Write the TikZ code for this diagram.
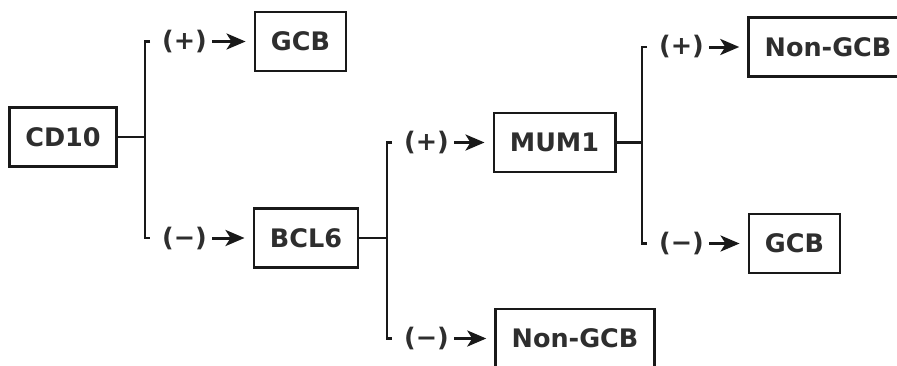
\documentclass[tikz,border=0pt]{standalone}
\usepackage{fontspec}
\setmainfont{DejaVu Sans}
\usetikzlibrary{arrows.meta}
\begin{document}
\begin{tikzpicture}[x=1pt,y=-1pt,
  box/.style={draw=black!90, line width=2.8pt, inner xsep=16pt, inner ysep=0pt, minimum height=59pt,
    font=\fontsize{25.5}{30}\selectfont\bfseries, text=black!82},
  lbl/.style={inner sep=0pt, anchor=west, font=\fontsize{25.5}{30}\selectfont\bfseries, text=black!82},
  line/.style={line width=2.7pt, draw=black!90},
  arr/.style={line width=3pt, draw=black!90, -{Stealth[length=19pt,width=16pt,inset=5pt]}, shorten <=5pt, shorten >=8pt}
]
\useasboundingbox (0,0) rectangle (897,365);
\fill[white] (0,0) rectangle (897,365);

\node[box] (CD10) at (63,137) {CD10};
\node[box] (GCBa) at (300.5,41.5) {GCB};
\node[box] (BCL6) at (306,238) {BCL6};
\node[box] (MUM1) at (554.5,142.5) {MUM1};
\node[box] (NGa) at (828,47) {Non-GCB};
\node[box] (GCBb) at (794.5,243.5) {GCB};
\node[box] (NGb) at (575,338.5) {Non-GCB};

% CD10 branch
\coordinate (j1) at (145,137);
\draw[line] (CD10.east) -- (j1);
\draw[line] ([xshift=5pt]j1 |- GCBa.west) -- (j1 |- GCBa.west) -- (j1 |- BCL6.west) -- ++(5pt,0);
\node[lbl] (p1) at ([xshift=17pt]j1 |- GCBa.west) {(+)};
\node[lbl] (m1) at ([xshift=17pt]j1 |- BCL6.west) {(−)};
\draw[arr] (p1.east) -- (GCBa.west);
\draw[arr] (m1.east) -- (BCL6.west);

% BCL6 branch
\coordinate (j2) at (387,238);
\draw[line] (BCL6.east) -- (j2);
\draw[line] ([xshift=5pt]j2 |- MUM1.west) -- (j2 |- MUM1.west) -- (j2 |- NGb.west) -- ++(5pt,0);
\node[lbl] (p2) at ([xshift=17pt]j2 |- MUM1.west) {(+)};
\node[lbl] (m2) at ([xshift=17pt]j2 |- NGb.west) {(−)};
\draw[arr] (p2.east) -- (MUM1.west);
\draw[arr] (m2.east) -- (NGb.west);

% MUM1 branch
\coordinate (j3) at (642,142.5);
\draw[line] (MUM1.east) -- (j3);
\draw[line] ([xshift=5pt]j3 |- NGa.west) -- (j3 |- NGa.west) -- (j3 |- GCBb.west) -- ++(5pt,0);
\node[lbl] (p3) at ([xshift=17pt]j3 |- NGa.west) {(+)};
\node[lbl] (m3) at ([xshift=17pt]j3 |- GCBb.west) {(−)};
\draw[arr] (p3.east) -- (NGa.west);
\draw[arr] (m3.east) -- (GCBb.west);
\end{tikzpicture}
\end{document}
